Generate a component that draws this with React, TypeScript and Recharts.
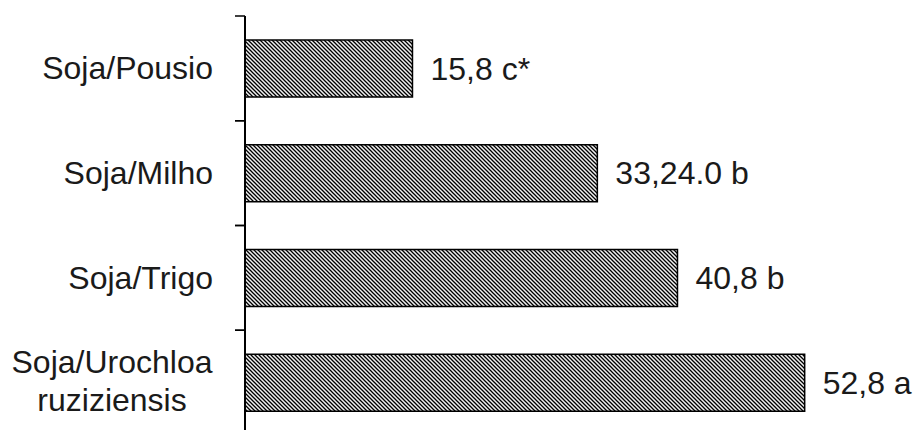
import React from 'react'
import { BarChart, Bar, XAxis, YAxis, LabelList } from 'recharts'

// cultivation systems (bottom line break kept as in the figure)
const categories = ['Soja/Pousio', 'Soja/Milho', 'Soja/Trigo', 'Soja/Urochloa\nruziziensis']
const values = [15.8, 33.24, 40.8, 52.8]
const valueLabels = ['15,8 c*', '33,24.0 b', '40,8 b', '52,8 a']

const W = 914
const H = 448
const TOP = 16
const BOTTOM = 13
const AXIS_X = 245
const FONT = '"Liberation Sans", Arial, sans-serif'

const data = categories.map((name, i) => ({ name, value: values[i], label: valueLabels[i] }))
const halfBand = (H - TOP - BOTTOM) / categories.length / 2

const CategoryTick = (props: any) => {
  const { y, payload } = props
  const lines = String(payload.value).split('\n')
  const labelEnd = AXIS_X - 32
  return (
    <g>
      <line x1={AXIS_X - 10} x2={AXIS_X} y1={y - halfBand} y2={y - halfBand} stroke="#000" strokeWidth={1.5} />
      <line x1={AXIS_X - 10} x2={AXIS_X} y1={y + halfBand} y2={y + halfBand} stroke="#000" strokeWidth={1.5} />
      {lines.length === 1 ? (
        <text x={labelEnd} y={y + 11} textAnchor="end" fontSize={32} fill="#1a1a1a" fontFamily={FONT}>
          {lines[0]}
        </text>
      ) : (
        <text textAnchor="middle" fontSize={32} fill="#1a1a1a" fontFamily={FONT}>
          <tspan x={labelEnd - 101} y={y - 10}>{lines[0]}</tspan>
          <tspan x={labelEnd - 101} y={y + 28}>{lines[1]}</tspan>
        </text>
      )}
    </g>
  )
}

const ValueLabel = (props: any) => {
  const { x, y, width, height, index } = props
  return (
    <text x={x + width + 18} y={y + height / 2 + 11} fontSize={32} fill="#1a1a1a" fontFamily={FONT}>
      {valueLabels[index]}
    </text>
  )
}

export default function App() {
  return (
    <div style={{ width: W, height: H }}>
      <style>{'html{overflow:hidden}body{margin:0}'}</style>
      <BarChart
        width={W}
        height={H}
        data={data}
        layout="vertical"
        margin={{ top: TOP, right: 33, bottom: BOTTOM, left: 0 }}
      >
        <defs>
          <pattern id="hatch" patternUnits="userSpaceOnUse" width={4} height={4}>
            <rect width={4} height={4} fill="#f0f0f0" />
            <path d="M-1,-1 L5,5 M-1,3 L1,5 M3,-1 L5,1" stroke="#000" strokeWidth={1.3} />
          </pattern>
        </defs>
        <XAxis type="number" domain={[0, 60]} hide />
        <YAxis
          type="category"
          dataKey="name"
          width={AXIS_X}
          axisLine={{ stroke: '#000', strokeWidth: 2 }}
          tickLine={false}
          tick={<CategoryTick />}
          interval={0}
        />
        <Bar dataKey="value" barSize={57} fill="url(#hatch)" stroke="#000" strokeWidth={1.5} isAnimationActive={false}>
          <LabelList dataKey="label" content={<ValueLabel />} />
        </Bar>
      </BarChart>
    </div>
  )
}
